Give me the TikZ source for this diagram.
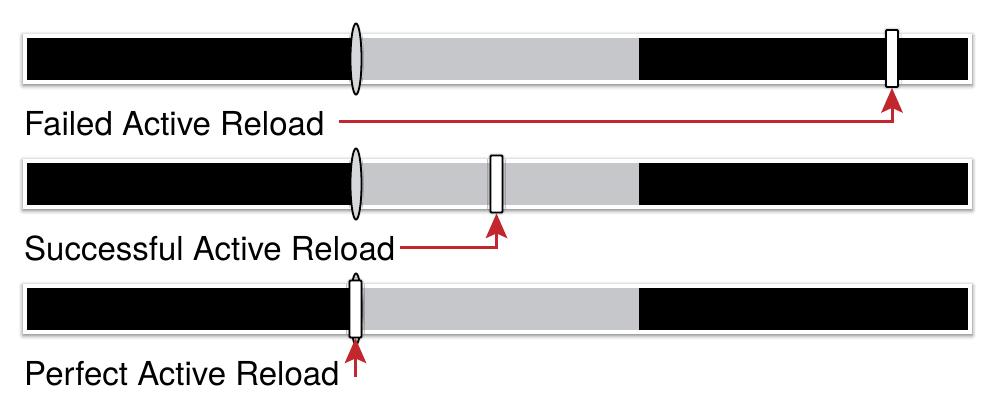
\documentclass[tikz,border=0pt]{standalone}
\usepackage{fontspec}
\setmainfont{TeX Gyre Heros}
\usetikzlibrary{shadows.blur}
\definecolor{arrowred}{HTML}{C1272D}
\definecolor{zone}{HTML}{C6C7CB}
\newcommand\myredhead[1]{\fill[arrowred] (#1) -- ++(-11,25) -- ++(11,-5) -- ++(11,5) -- cycle;}
\begin{document}
\begin{tikzpicture}[x=1pt,y=-1pt,
  frame/.style={fill=white, blur shadow={shadow xshift=0pt,shadow yshift=-1.5pt,shadow blur radius=4pt,shadow opacity=55}},
  knob/.style={draw=black, line width=1.8pt, fill=zone!70!white},
  marker/.style={draw=black, line width=1.8pt, fill=white, rounded corners=1pt,
    minimum width=12pt, minimum height=57pt, inner sep=0pt,
    blur shadow={shadow xshift=0pt,shadow yshift=0pt,shadow blur radius=3pt,shadow opacity=50}},
  textlabel/.style={anchor=base west, inner sep=0pt, font=\fontsize{33}{40}\selectfont},
  redline/.style={draw=arrowred, line width=3pt}
]
\useasboundingbox (0,0) rectangle (989,405);
\foreach \yc in {59,184,309}{
  \path[frame] (23,\yc-25) rectangle (972,\yc+25);
  \fill[black] (27,\yc-21) rectangle (968,\yc+21);
  \fill[zone] (356,\yc-21) rectangle (639,\yc+21);
  \path[knob, blur shadow={shadow xshift=0pt,shadow yshift=0pt,shadow blur radius=2pt,shadow opacity=40}] (356,\yc) ellipse [x radius=5.5, y radius=35.5];
}
\node[marker] (m1) at (892,58.5) {};
\node[marker] (m2) at (496.5,184) {};
\node[marker] (m3) at (355.5,309) {};
\node[textlabel] (l1) at (24,135) {Failed Active Reload};
\node[textlabel] (l2) at (24,260) {Successful Active Reload};
\node[textlabel] (l3) at (24,385) {Perfect Active Reload};
\coordinate (c3) at (355.5,377);
\draw[redline] ([xshift=14pt,yshift=14pt]l1.base east) -| ([yshift=-18pt]m1.south);
\myredhead{m1.south}
\draw[redline] ([xshift=5pt,yshift=13pt]l2.base east) -| ([yshift=-18pt]m2.south);
\myredhead{m2.south}
\draw[redline] (c3) -- ([yshift=-18pt]m3.south);
\myredhead{m3.south}
\end{tikzpicture}
\end{document}
